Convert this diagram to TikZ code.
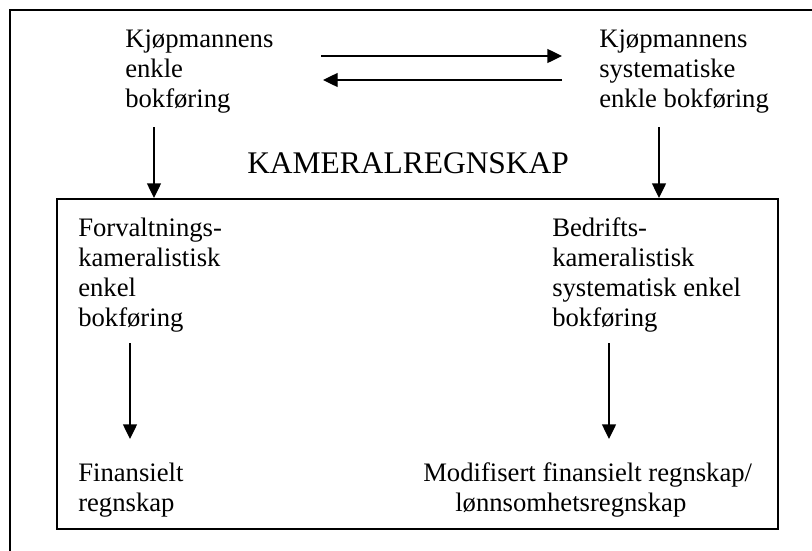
\documentclass[tikz,border=0pt]{standalone}
\usepackage{fontspec}
\setmainfont{Liberation Serif}
\usepackage{tikz}
\usetikzlibrary{
  arrows.meta,
  positioning
}
\tikzset{
  textblock/.style={
    inner sep=0pt, anchor=north west, align=left,
    font=\fontsize{20}{22.5}\selectfont
  },
  flowarrow/.style={-{Triangle[length=11pt, width=10.5pt]}, line width=1pt},
  frameline/.style={line width=1.5pt},
}

\begin{document}
\begin{tikzpicture}[
  x=0.75pt, y=-0.75pt,
  titletext/.style={inner sep=0pt, anchor=base west, font=\fontsize{23.6}{26}\selectfont},
  innerbox/.style={draw, frameline, minimum width=540.75pt, minimum height=247.5pt, inner sep=0pt},
]
\clip (0,0) rectangle (812,550);

% outer frame (only left and top edges show)
\draw[frameline] (10,560) -- (10,10) -- (830,10);

\node[textblock] (simple) at (125,29.1) {Kjøpmannens\\enkle\\bokføring};
\node[textblock] (systematic) at (599,29.1) {Kjøpmannens\\systematiske\\enkle bokføring};
\node[titletext] (title) at (247,173) {KAMERALREGNSKAP};
\node[innerbox] (box) at (417.5,364) {};

\node[textblock] (admin) at (78,217.5) {Forvaltnings-\\kameralistisk\\enkel\\bokføring};
\node[textblock] (business) at (552,217.5) {Bedrifts-\\kameralistisk\\systematisk enkel\\bokføring};
\node[textblock] (financial) at (78,462.5) {Finansielt\\regnskap};
\node[textblock] (modified) at (423,462.5) {Modifisert finansielt regnskap/\\\hspace*{24pt}lønnsomhetsregnskap};

% arrow end points
\coordinate (toright) at (321,56);
\coordinate (toleft) at (562,80);
\coordinate (downA) at (154,127);
\coordinate (downB) at (659,127);
\coordinate (downC) at (130,343);
\coordinate (downD) at (609,343);
\coordinate (tipC) at (130,439);
\coordinate (tipD) at (609,439);

\draw[flowarrow] (toright) -- (toright -| toleft);
\draw[flowarrow] (toleft) -- ([xshift=1.5pt]toleft -| toright);
\draw[flowarrow] (downA) -- (downA |- box.north);
\draw[flowarrow] (downB) -- (downB |- box.north);
\draw[flowarrow] (downC) -- (tipC);
\draw[flowarrow] (downD) -- (tipD);

\end{tikzpicture}
\end{document}
